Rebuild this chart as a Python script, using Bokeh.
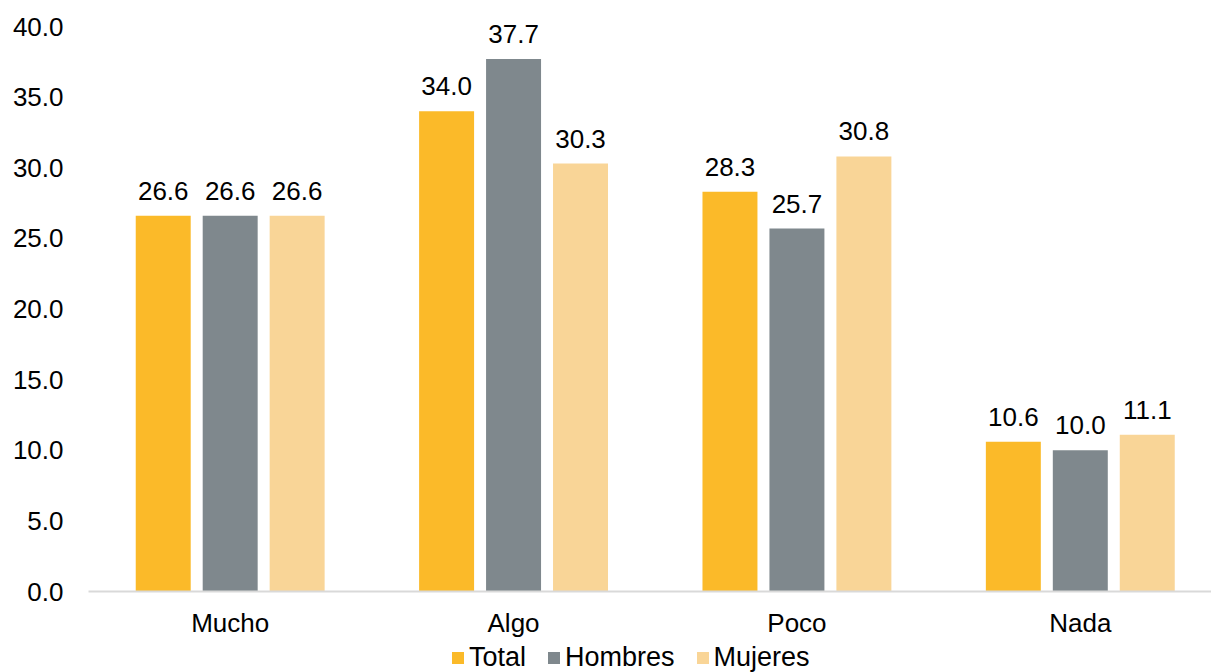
from bokeh.plotting import figure
from bokeh.layouts import column
from bokeh.models import ColumnDataSource, Range1d, FixedTicker, Legend, LegendItem
from bokeh.transform import dodge
from bokeh.core.properties import value
from bokeh.embed import file_html
from bokeh.resources import INLINE

categories = ["Mucho", "Algo", "Poco", "Nada"]
series_names = ["Total", "Hombres", "Mujeres"]
total = [26.6, 34.0, 28.3, 10.6]
hombres = [26.6, 37.7, 25.7, 10.0]
mujeres = [26.6, 30.3, 30.8, 11.1]
y_ticks = [0, 5, 10, 15, 20, 25, 30, 35, 40]

colors = ["#FBBA29", "#7F888D", "#F9D597"]
FONT = "Liberation Sans"
FS = "26px"

xc = [i + 0.5 for i in range(len(categories))]

p = figure(width=1211, height=640, output_backend="svg", toolbar_location=None,
           x_range=Range1d(0, 3.963), y_range=Range1d(0, 41.49),
           min_border_left=88, min_border_right=0, min_border_top=5, min_border_bottom=49)
p.outline_line_color = None
p.grid.visible = False
p.background_fill_color = "white"

offsets = [-0.2363, 0.0, 0.2363]
for name, vals, col, off in zip(series_names, [total, hombres, mujeres], colors, offsets):
    src = ColumnDataSource(dict(x=xc, y=vals, lab=["{:.1f}".format(v) for v in vals]))
    p.vbar(x=dodge("x", off), top="y", width=0.194, source=src,
           fill_color=col, line_color=None)
    p.text(x=dodge("x", off), y="y", text="lab", source=src, text_align="center",
           text_baseline="bottom", y_offset=-16, text_font=value(FONT),
           text_font_size=FS, text_color="#000000")

p.yaxis.ticker = FixedTicker(ticks=y_ticks)
p.yaxis.major_label_overrides = {t: "{:.1f}".format(t) for t in y_ticks}
p.yaxis.axis_line_color = None
p.yaxis.major_tick_line_color = None
p.yaxis.minor_tick_line_color = None
p.yaxis.major_label_standoff = 19
p.yaxis.major_label_text_font = FONT
p.yaxis.major_label_text_font_size = FS
p.yaxis.major_label_text_color = "#000000"

p.xaxis.ticker = FixedTicker(ticks=xc)
p.xaxis.major_label_overrides = {x: c for x, c in zip(xc, categories)}
p.xaxis.axis_line_color = "#D9D9D9"
p.xaxis.axis_line_width = 2
p.xaxis.major_tick_line_color = None
p.xaxis.minor_tick_line_color = None
p.xaxis.major_label_standoff = 10
p.xaxis.major_label_text_font = FONT
p.xaxis.major_label_text_font_size = FS
p.xaxis.major_label_text_color = "#000000"

# legend strip (swatch renderers sit outside the visible range)
q = figure(width=1211, height=32, output_backend="svg", toolbar_location=None,
           x_range=Range1d(0, 1), y_range=Range1d(0, 1),
           min_border_left=0, min_border_right=0, min_border_top=0, min_border_bottom=0)
q.outline_line_color = None
q.grid.visible = False
q.axis.visible = False
items = []
for name, col in zip(series_names, colors):
    r = q.vbar(x=[5], top=[5], bottom=[4], width=0.1, fill_color=col, line_color=None)
    items.append(LegendItem(label=name, renderers=[r]))
legend = Legend(items=items, orientation="horizontal", location=(362, -1),
                glyph_width=15, glyph_height=15, label_standoff=4, spacing=20,
                padding=0, margin=0, border_line_color=None, background_fill_alpha=0,
                label_text_font=FONT, label_text_font_size="27px", label_text_color="#000000")
q.add_layout(legend, "center")

layout = column(p, q, spacing=0)
open("out.html", "w").write(file_html(layout, INLINE))
